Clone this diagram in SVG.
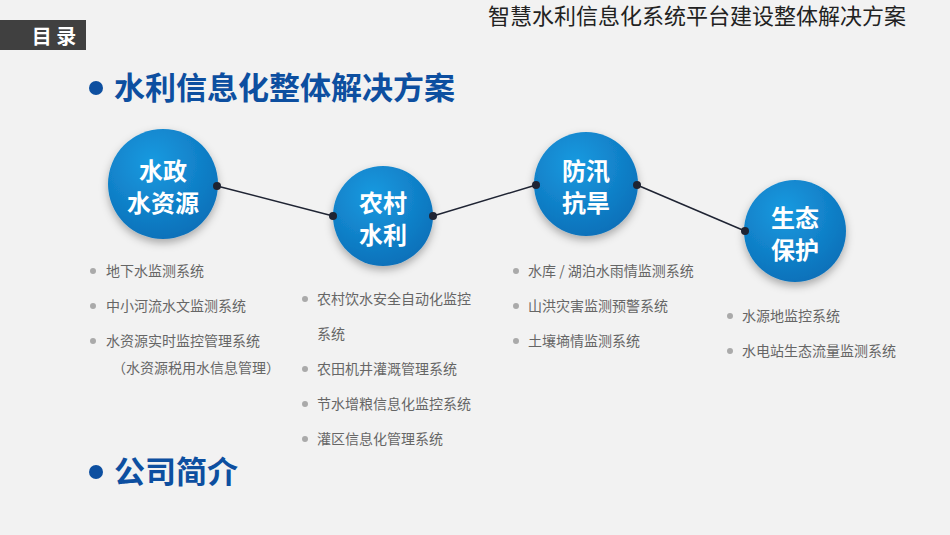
<svg xmlns="http://www.w3.org/2000/svg" width="950" height="535" viewBox="0 0 950 535">
<defs>
<radialGradient id="g" cx="0.4" cy="0.3" r="0.75"><stop offset="0" stop-color="#1a9ae0"/><stop offset="1" stop-color="#0a6fb8"/></radialGradient>
<filter id="s" x="-30%" y="-30%" width="160%" height="170%"><feDropShadow dx="0" dy="4" stdDeviation="4" flood-color="#000" flood-opacity="0.3"/></filter>
<style>
text{font-family:"Noto Sans CJK SC","Noto Sans",sans-serif}
.c{fill:url(#g);filter:url(#s)}
.ct{fill:#fff;font-size:24px;font-weight:bold;text-anchor:middle}
.it{fill:#666;font-size:14px}
.b{fill:#aaa}
.d{fill:#1f2433}
.h{fill:#0d4fa0;font-size:31px;font-weight:bold}
</style>
</defs>
<rect width="950" height="535" fill="#f2f2f2"/>
<rect x="0" y="20" width="86" height="30" fill="#404040"/>
<text x="54" y="44" fill="#fff" font-size="20" font-weight="bold" text-anchor="middle">目 录</text>
<text x="906" y="24" fill="#222" font-size="22" text-anchor="end">智慧水利信息化系统平台建设整体解决方案</text>
<circle cx="96" cy="88" r="7" fill="#0d4fa0"/>
<text class="h" x="114" y="99">水利信息化整体解决方案</text>
<circle cx="96" cy="472" r="7" fill="#0d4fa0"/>
<text class="h" x="114" y="483">公司简介</text>
<g id="connectors" stroke="#1f2433" stroke-width="1.5">
<line x1="217" y1="186" x2="333" y2="216"/>
<line x1="433" y1="216" x2="536" y2="185"/>
<line x1="637" y1="185" x2="745" y2="231"/>
</g>
<g id="n1"><circle class="c" cx="163" cy="184" r="55"/><text class="ct" x="163" y="180">水政</text><text class="ct" x="163" y="212">水资源</text></g>
<g id="n2"><circle class="c" cx="383" cy="216" r="50"/><text class="ct" x="383" y="212">农村</text><text class="ct" x="383" y="244">水利</text></g>
<g id="n3"><circle class="c" cx="586" cy="184" r="52"/><text class="ct" x="586" y="180">防汛</text><text class="ct" x="586" y="212">抗旱</text></g>
<g id="n4"><circle class="c" cx="795" cy="231" r="51"/><text class="ct" x="795" y="227">生态</text><text class="ct" x="795" y="259">保护</text></g>
<g class="d"><circle cx="217" cy="186" r="4"/><circle cx="333" cy="216" r="4"/><circle cx="433" cy="216" r="4"/><circle cx="536" cy="185" r="4"/><circle cx="637" cy="185" r="4"/><circle cx="745" cy="231" r="4"/></g>
<g id="list1"><circle class="b" cx="93" cy="271" r="3"/><text class="it" x="106" y="276">地下水监测系统</text>
<circle class="b" cx="93" cy="306" r="3"/><text class="it" x="106" y="311">中小河流水文监测系统</text>
<circle class="b" cx="93" cy="341" r="3"/><text class="it" x="106" y="346">水资源实时监控管理系统</text>
<text class="it" x="112" y="373">（水资源税用水信息管理）</text></g>
<g id="list2"><circle class="b" cx="305" cy="299" r="3"/><text class="it" x="317" y="304">农村饮水安全自动化监控</text>
<text class="it" x="317" y="339">系统</text>
<circle class="b" cx="305" cy="369" r="3"/><text class="it" x="317" y="374">农田机井灌溉管理系统</text>
<circle class="b" cx="305" cy="404" r="3"/><text class="it" x="317" y="409">节水增粮信息化监控系统</text>
<circle class="b" cx="305" cy="439" r="3"/><text class="it" x="317" y="444">灌区信息化管理系统</text></g>
<g id="list3"><circle class="b" cx="516" cy="271" r="3"/><text class="it" x="528" y="276">水库 / 湖泊水雨情监测系统</text>
<circle class="b" cx="516" cy="306" r="3"/><text class="it" x="528" y="311">山洪灾害监测预警系统</text>
<circle class="b" cx="516" cy="341" r="3"/><text class="it" x="528" y="346">土壤墒情监测系统</text></g>
<g id="list4"><circle class="b" cx="730" cy="316" r="3"/><text class="it" x="742" y="321">水源地监控系统</text>
<circle class="b" cx="730" cy="351" r="3"/><text class="it" x="742" y="356">水电站生态流量监测系统</text></g>
</svg>
